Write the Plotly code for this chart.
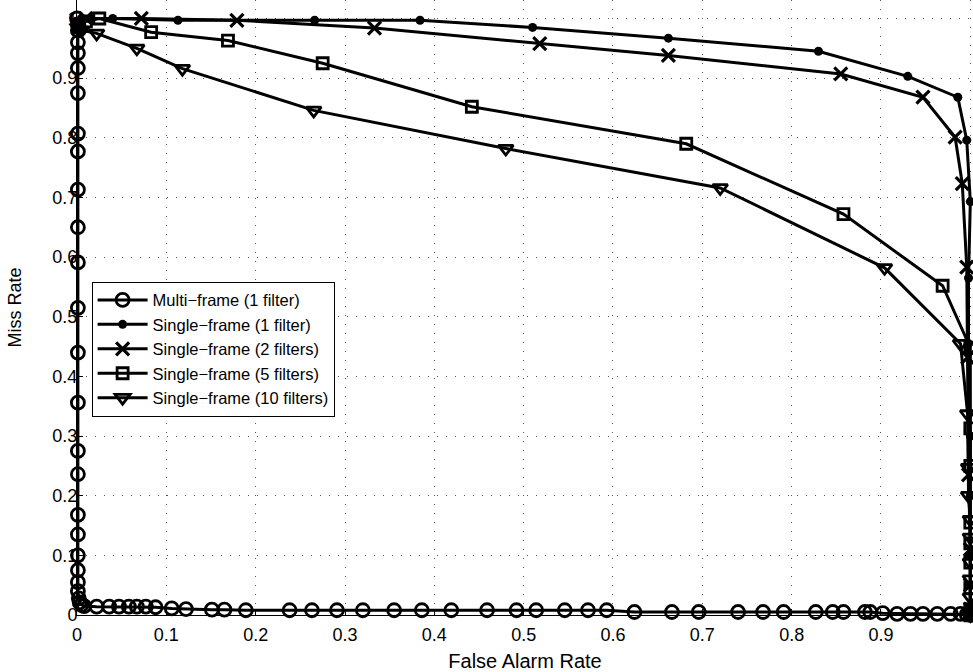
import plotly.graph_objects as go

# ---- data ----
multi_x = [0.0, 0.001, 0.001, 0.001, 0.001, 0.001, 0.001, 0.001, 0.001, 0.001, 0.001, 0.001,
           0.001, 0.001, 0.001, 0.001, 0.001, 0.001, 0.001, 0.001, 0.001, 0.001, 0.001, 0.002,
           0.003, 0.005, 0.008,
           0.022, 0.036, 0.047, 0.058, 0.067, 0.077, 0.088, 0.106, 0.122, 0.151, 0.165, 0.189,
           0.238, 0.263, 0.291, 0.320, 0.355, 0.386, 0.419, 0.459, 0.492, 0.514, 0.546, 0.572,
           0.593, 0.624, 0.666, 0.696, 0.740, 0.768, 0.791, 0.827, 0.846, 0.858, 0.882, 0.888,
           0.902, 0.918, 0.933, 0.947, 0.963, 0.978, 0.989, 0.996, 1.0]
multi_y = [1.0, 0.99, 0.98, 0.96, 0.942, 0.917, 0.875, 0.807, 0.777, 0.713, 0.650, 0.591,
           0.515, 0.440, 0.356, 0.275, 0.236, 0.168, 0.135, 0.100, 0.075, 0.055, 0.040, 0.028,
           0.021, 0.017, 0.015,
           0.014, 0.014, 0.014, 0.014, 0.014, 0.014, 0.013, 0.011, 0.010, 0.009, 0.009, 0.008,
           0.008, 0.008, 0.008, 0.008, 0.008, 0.008, 0.008, 0.008, 0.008, 0.008, 0.008, 0.008,
           0.008, 0.005, 0.005, 0.005, 0.005, 0.005, 0.005, 0.005, 0.005, 0.005, 0.005, 0.005,
           0.003, 0.002, 0.002, 0.002, 0.002, 0.002, 0.002, 0.001, 0.0]

s1_x = [0.0, 0.005, 0.015, 0.040, 0.113, 0.266, 0.384, 0.510, 0.662, 0.830, 0.930, 0.986,
        0.996, 1.0, 0.998, 0.998, 1.0, 1.0, 1.0, 1.0, 1.0, 1.0]
s1_y = [0.99, 1.0, 1.0, 1.0, 0.997, 0.997, 0.997, 0.985, 0.967, 0.945, 0.903, 0.868,
        0.796, 0.693, 0.565, 0.455, 0.30, 0.20, 0.10, 0.05, 0.01, 0.0]

s2_x = [0.003, 0.010, 0.072, 0.179, 0.333, 0.518, 0.662, 0.855, 0.947, 0.983, 0.991, 0.996,
        0.997, 0.998, 1.0, 1.0, 1.0, 1.0]
s2_y = [0.99, 1.0, 1.0, 0.997, 0.984, 0.958, 0.938, 0.907, 0.868, 0.801, 0.723, 0.583,
        0.432, 0.235, 0.11, 0.05, 0.01, 0.0]

s5_x = [0.002, 0.010, 0.025, 0.083, 0.169, 0.275, 0.442, 0.682, 0.858, 0.969, 1.0, 1.0,
        1.0, 1.0, 1.0, 1.0, 1.0, 1.0]
s5_y = [0.985, 0.995, 1.0, 0.977, 0.963, 0.925, 0.852, 0.790, 0.672, 0.552, 0.448, 0.313,
        0.25, 0.155, 0.12, 0.088, 0.045, 0.01]

s10_x = [0.001, 0.005, 0.022, 0.067, 0.118, 0.265, 0.480, 0.720, 0.904, 0.989, 0.997,
         0.998, 0.998, 1.0, 1.0, 1.0, 1.0, 1.0, 1.0]
s10_y = [0.985, 0.98, 0.975, 0.950, 0.916, 0.846, 0.782, 0.716, 0.582, 0.455, 0.337,
         0.247, 0.20, 0.16, 0.13, 0.088, 0.06, 0.03, 0.0]

names = ["Multi\u2212frame (1 filter)", "Single\u2212frame (1 filter)",
         "Single\u2212frame (2 filters)", "Single\u2212frame (5 filters)",
         "Single\u2212frame (10 filters)"]

x_ticks = [0, 0.1, 0.2, 0.3, 0.4, 0.5, 0.6, 0.7, 0.8, 0.9, 1]
tick_text = ["0", "0.1", "0.2", "0.3", "0.4", "0.5", "0.6", "0.7", "0.8", "0.9", "1"]

series = [
    (multi_x, multi_y, names[0], dict(symbol="circle-open", size=13, color="black",
                                      line=dict(width=2.8, color="black"))),
    (s1_x, s1_y, names[1], dict(symbol="circle", size=9, color="black",
                                line=dict(width=0, color="black"))),
    (s2_x, s2_y, names[2], dict(symbol="x-thin", size=13, color="black",
                                line=dict(width=3.2, color="black"))),
    (s5_x, s5_y, names[3], dict(symbol="square-open", size=11, color="black",
                                line=dict(width=2.8, color="black"))),
    (s10_x, s10_y, names[4], dict(symbol="triangle-down-open", size=13, color="black",
                                  line=dict(width=2.8, color="black"))),
]

fig = go.Figure()
for xs, ys, nm, mk in series:
    fig.add_trace(go.Scatter(x=xs, y=ys, name=nm, mode="lines+markers",
                             line=dict(color="black", width=3), marker=mk,
                             cliponaxis=False))

fam = "Liberation Sans, Arial, sans-serif"
tick_font = dict(family=fam, size=18, color="black")
axis_common = dict(
    showline=True, linecolor="black", linewidth=1,
    showgrid=True, gridcolor="#555555", gridwidth=1, griddash="1px,8px",
    zeroline=False, ticks="inside", ticklen=6, tickcolor="black",
    tickvals=x_ticks, ticktext=tick_text, tickfont=tick_font,
)
fig.update_xaxes(range=[0, 1.003], ticklabelstandoff=3,
                 title=dict(text="False Alarm Rate", font=dict(family=fam, size=20, color="black"),
                            standoff=10),
                 **axis_common)
fig.update_yaxes(range=[0, 1.031], ticklabelstandoff=-5,
                 title=dict(text="Miss Rate", font=dict(family=fam, size=18, color="black"),
                            standoff=26),
                 **axis_common)

fig.update_layout(
    width=973, height=672,
    margin=dict(l=77, r=0, t=0, b=57),
    paper_bgcolor="white", plot_bgcolor="white",
    font=dict(family=fam, size=17, color="black"),
    legend=dict(x=0.0163, y=0.542, xanchor="left", yanchor="top",
                bgcolor="white", bordercolor="black", borderwidth=1,
                font=dict(family=fam, size=16.5, color="black"),
                itemwidth=50, tracegroupgap=0),
    showlegend=True,
)

fig.write_html("out.html")
